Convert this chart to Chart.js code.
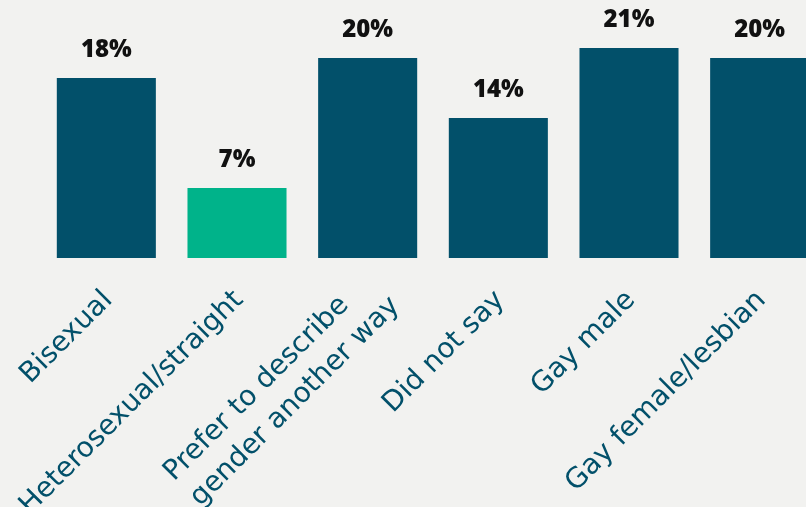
<!DOCTYPE html>
<html>
<head>
<meta charset="utf-8">
<script src="https://cdn.jsdelivr.net/npm/chart.js@4"></script>
<style>
  html, body { margin: 0; padding: 0; width: 806px; height: 507px; overflow: hidden; background: #f2f2f0; }
  #wrap { width: 830px; height: 507px; }
</style>
</head>
<body>
<div id="wrap"><canvas id="c" width="830" height="507"></canvas></div>
<script>
// Sexual orientation of respondents (% of total)
const categories = [
  'Bisexual',
  'Heterosexual/straight',
  ['Prefer to describe    ', 'gender another way'],
  'Did not say',
  'Gay male',
  'Gay female/lesbian'
];
const shares = [18, 7, 20, 14, 21, 20];
const barColors = ['#02506a', '#00b38a', '#02506a', '#02506a', '#02506a', '#02506a'];

const TEAL = '#02506a';

// Percent labels above each bar
const valueLabels = {
  id: 'valueLabels',
  afterDatasetsDraw(chart) {
    const { ctx } = chart;
    const meta = chart.getDatasetMeta(0);
    ctx.save();
    ctx.font = '800 24px "Open Sans"';
    ctx.fillStyle = '#111111';
    ctx.textAlign = 'center';
    ctx.textBaseline = 'middle';
    meta.data.forEach((bar, i) => {
      ctx.fillText(shares[i] + '%', bar.x, bar.y - 28);
    });
    ctx.restore();
  }
};

// Lift the two-line category label so both lines sit around its tick
const liftWrappedLabel = {
  id: 'liftWrappedLabel',
  afterLayout(chart) {
    const items = chart.scales.x.getLabelItems();
    items.forEach((item, i) => {
      if (Array.isArray(categories[i])) item.options.translation[1] -= 20;
    });
  }
};

new Chart(document.getElementById('c'), {
  type: 'bar',
  data: {
    labels: categories,
    datasets: [{
      data: shares,
      backgroundColor: barColors,
      borderWidth: 0,
      categoryPercentage: 1,
      barPercentage: 0.758
    }]
  },
  options: {
    responsive: false,
    animation: false,
    layout: { padding: { left: 41, right: 5, top: 8, bottom: 0 } },
    plugins: { legend: { display: false }, tooltip: { enabled: false } },
    scales: {
      y: { display: false, min: 0, max: 25 },
      x: {
        grid: { display: false, drawTicks: false },
        border: { display: false },
        ticks: {
          color: TEAL,
          font: { family: '"DejaVu Sans"', size: 28, lineHeight: 1.3 },
          minRotation: 45,
          maxRotation: 45,
          padding: 25,
          labelOffset: 2,
          autoSkip: false
        },
        afterFit(scale) {
          scale.height = 249;
          scale.paddingLeft = 0;
          scale.paddingRight = 0;
        }
      }
    }
  },
  plugins: [valueLabels, liftWrappedLabel]
});
</script>
</body>
</html>
